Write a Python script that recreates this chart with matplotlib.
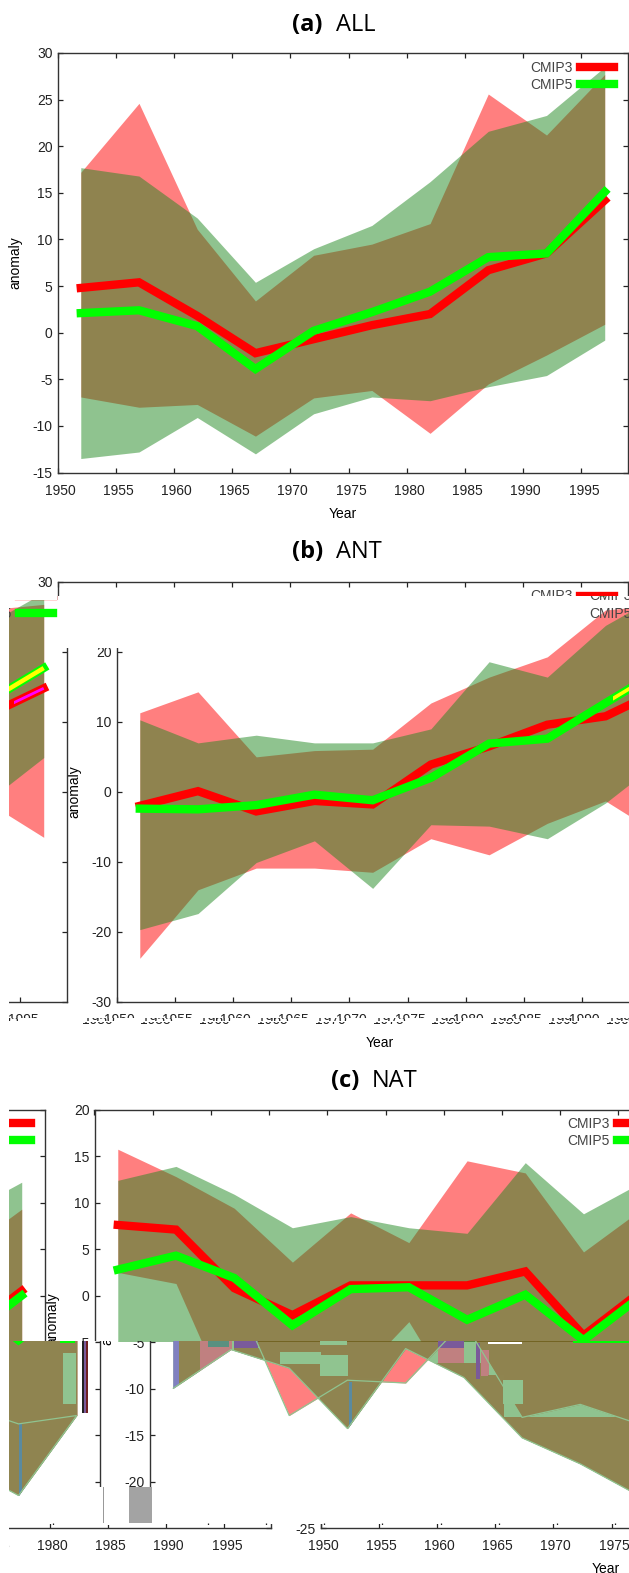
import matplotlib
matplotlib.use("Agg")
import matplotlib.pyplot as plt
from matplotlib.patches import Rectangle
from matplotlib.transforms import Bbox, IdentityTransform, ScaledTranslation

WIDTH = 629
HEIGHT = 1573
WRAP = 620

years = [1952, 1957, 1962, 1967, 1972, 1977, 1982, 1987, 1992, 1997]
xTicks = [1950, 1955, 1960, 1965, 1970, 1975, 1980, 1985, 1990, 1995]

# panel a
allCmip3Mean = [4.8, 5.4, 1.8, -2.2, -0.7, 0.8, 2.0, 6.7, 8.5, 14.2]
allCmip5Mean = [2.1, 2.4, 0.7, -3.9, 0.2, 2.2, 4.4, 8.1, 8.5, 15.1]
allCmip3Upper = [17.2, 24.6, 11.1, 3.4, 8.3, 9.5, 11.7, 25.6, 21.2, 27.7]
allCmip5Upper = [17.7, 16.8, 12.3, 5.4, 9.0, 11.5, 16.2, 21.6, 23.3, 28.5]
allCmip3Lower = [-6.9, -8.0, -7.7, -11.1, -7.0, -6.2, -10.8, -5.5, -2.4, 0.9]
allCmip5Lower = [-13.5, -12.8, -9.1, -13.0, -8.7, -6.9, -7.3, -5.8, -4.6, -0.8]

# panel b
antCmip3Mean = [-2.0, 0.1, -2.8, -1.3, -1.8, 3.9, 6.5, 9.6, 10.8, 14.8]
antCmip5Mean = [-2.4, -2.5, -1.9, -0.4, -1.2, 2.0, 6.9, 7.6, 12.7, 17.7]
antCmip3Upper = [11.3, 14.3, 5.0, 5.9, 6.1, 12.7, 16.4, 19.3, 26.0, 26.8]
antCmip5Upper = [10.3, 7.0, 8.1, 7.0, 7.0, 9.0, 18.6, 16.4, 23.8, 28.5]
antCmip3Lower = [-23.8, -14.0, -10.9, -10.9, -11.5, -6.7, -9.0, -4.5, -1.3, -6.5]
antCmip5Lower = [-19.7, -17.4, -10.1, -7.0, -13.8, -4.7, -4.9, -6.7, -1.6, 4.9]

# panel c
natCmip3Mean = [7.6, 7.1, 0.8, -2.1, 1.1, 1.1, 1.1, 2.6, -4.3, 0.5]
natCmip5Mean = [2.8, 4.3, 1.9, -3.2, 0.7, 0.9, -2.6, 0.1, -4.8, 0.0]
natCmip3Upper = [15.75, 12.8, 9.4, 3.6, 8.9, 5.7, 14.5, 13.2, 4.7, 9.3]
natCmip5Upper = [12.4, 13.9, 10.9, 7.3, 8.5, 7.3, 6.7, 14.3, 8.8, 12.2]
natCmip3Lower = [2.5, 1.3, -12.9, -9.1, -9.4, -2.8, -13.1, -11.7, -13.8, -12.9]
natCmip5Lower = [-10.0, -5.8, -7.8, -14.3, -5.7, -8.8, -15.3, -18.1, -21.5, -12.9]

OLIVE = "#8f8450"
LIGHT_GREEN = "#90c490"
PINK = "#c08080"
PURPLE = "#7a5a9a"
TEAL = "#5a9080"
FONT_SIZE = 10

plt.rcParams["font.family"] = ["Liberation Sans", "DejaVu Sans"]
plt.rcParams["font.size"] = FONT_SIZE
plt.rcParams["axes.unicode_minus"] = False
plt.rcParams["text.color"] = "#222222"
plt.rcParams["xtick.color"] = "#222222"
plt.rcParams["ytick.color"] = "#222222"

fig = plt.figure(figsize=(WIDTH / 100, HEIGHT / 100), dpi=100)


def pixelBox(x0, x1, y0, y1):
    return Bbox([[x0, HEIGHT - y1], [x1, HEIGHT - y0]])


def drawPanel(series, ylim, yStep, top, bottom, dx, clip):
    (c3Mean, c5Mean, c3Up, c5Up, c3Lo, c5Lo) = series
    left = 57.5 + dx
    ax = fig.add_axes([left / WIDTH, (HEIGHT - bottom) / HEIGHT, 570.5 / WIDTH, (bottom - top) / HEIGHT])
    ax.patch.set_visible(False)

    ax.fill_between(years, c3Lo, c3Up, color="#ff0000", alpha=0.5, lw=0)
    ax.fill_between(years, c5Lo, c5Up, color="#208820", alpha=0.5, lw=0)
    ax.plot(years, c3Mean, color="#ff0000", lw=6.0, solid_capstyle="projecting", solid_joinstyle="miter", label="CMIP3")
    ax.plot(years, c5Mean, color="#00ff00", lw=6.0, solid_capstyle="projecting", solid_joinstyle="miter", label="CMIP5")

    ax.set_xlim(1950, 1999)
    ax.set_ylim(*ylim)
    ax.set_xticks(xTicks)
    ax.set_yticks(range(ylim[0], ylim[1] + 1, yStep))
    ax.tick_params(direction="in", top=True, right=True, length=3.6, width=0.9, labelsize=FONT_SIZE)
    ax.tick_params(axis="x", pad=8)
    ax.tick_params(axis="y", pad=3.6)
    for spine in ax.spines.values():
        spine.set_linewidth(1.0)
        spine.set_color("#333333")

    ax.set_xlabel("Year", va="center")
    ax.set_ylabel("anomaly", va="center")
    ax.xaxis.set_label_coords(0.5, -41 / (bottom - top))
    ax.yaxis.set_label_coords(-42.5 / 570.5, 0.5)

    legend = ax.legend(loc="upper right", bbox_to_anchor=(0.976, 1 - 7.5 / (bottom - top)), frameon=False,
                       markerfirst=False, handlelength=2.45, handletextpad=0.55, borderpad=0,
                       borderaxespad=0, labelspacing=0.22, fontsize=FONT_SIZE)
    for text in legend.get_texts():
        text.set_color("#444444")

    shift = ScaledTranslation(2.5 / 100, 0, fig.dpi_scale_trans)
    fig.canvas.draw()
    for tick in ax.xaxis.get_major_ticks():
        tick.label1.set_transform(tick.label1.get_transform() + shift)

    box = pixelBox(*clip)
    for artist in ax.findobj():
        if artist is not ax:
            artist.set_clip_path(None)
            artist.set_clip_box(box)
            artist.set_clip_on(True)
    return ax


def clippedLine(ax, xs, ys, color, lw, clip):
    line, = ax.plot(xs, ys, color=color, lw=lw, solid_capstyle="butt")
    line.set_clip_box(pixelBox(*clip))


def recolour(ax, series, rects):
    # glitched blocks keep the outline of the CMIP5 band
    for (x0, x1, y0, y1, color) in rects:
        poly = ax.fill_between(years, series[5], series[3], color=color, lw=0)
        poly.set_clip_path(None)
        poly.set_clip_box(pixelBox(x0, x1, y0, y1))


def pixelRect(x0, x1, y0, y1, color):
    fig.add_artist(Rectangle((x0, HEIGHT - y1), x1 - x0, y1 - y0, facecolor=color, edgecolor="none",
                             transform=IdentityTransform(), zorder=10))


allSeries = (allCmip3Mean, allCmip5Mean, allCmip3Upper, allCmip5Upper, allCmip3Lower, allCmip5Lower)
antSeries = (antCmip3Mean, antCmip5Mean, antCmip3Upper, antCmip5Upper, antCmip3Lower, antCmip5Lower)
natSeries = (natCmip3Mean, natCmip5Mean, natCmip3Upper, natCmip5Upper, natCmip3Lower, natCmip5Lower)

# panel a is intact
drawPanel(allSeries, (-15, 30), 5, 53, 472.5, 0, (0, WIDTH, 0, 535))

# panel b: rows slide sideways and wrap round
T, B = 582, 1001.7
drawPanel(antSeries, (-30, 30), 10, T, B, 0, (9, WIDTH, 560, 596))
drawPanel(antSeries, (-30, 30), 10, T, B, 0, (50, 60, 596, 600))
antMain = drawPanel(antSeries, (-30, 30), 10, T, B, 59, (9, WIDTH, 596, 1018))
antWrap = drawPanel(antSeries, (-30, 30), 10, T, B, 59 - WRAP, (9, WIDTH, 596, 1018))
drawPanel(antSeries, (-30, 30), 10, T, B, 39, (9, WIDTH, 1018, 1020.5))
drawPanel(antSeries, (-30, 30), 10, T, B, 39 - WRAP, (9, WIDTH, 1018, 1020.5))
drawPanel(antSeries, (-30, 30), 10, T, B, 37.5, (9, WIDTH, 1022, 1060))
clippedLine(antMain, years[-2:], antCmip5Mean[-2:], "#ffff00", 2.6, (613, WIDTH, 596, 1018))
clippedLine(antWrap, years[-2:], antCmip5Mean[-2:], "#ffff00", 3.2, (9, 50, 596, 1018))
clippedLine(antWrap, years[-2:], antCmip3Mean[-2:], "#ff00ff", 2.0, (14, 45, 596, 1018))
pixelRect(9, 56.5, 596, 599.5, "white")
pixelRect(58, 125, 596, 648, "white")

# panel c: same fault, three offsets
T, B = 1109.7, 1528
drawPanel(natSeries, (-25, 20), 5, T, B, 37, (9, WIDTH, 1100, 1341))
drawPanel(natSeries, (-25, 20), 5, T, B, 37 - WRAP, (9, WIDTH, 1100, 1341))
natMain = drawPanel(natSeries, (-25, 20), 5, T, B, 92, (9, WIDTH, 1341, 1524))
natWrap = drawPanel(natSeries, (-25, 20), 5, T, B, 92 - WRAP, (9, 77, 1341, 1524))
natWrapAxis = drawPanel(natSeries, (-25, 20), 5, T, B, 92 - WRAP, (77, WIDTH, 1341, 1524))
drawPanel(natSeries, (-25, 20), 5, T, B, 263, (9, WIDTH, 1524, HEIGHT))
drawPanel(natSeries, (-25, 20), 5, T, B, 263 - WRAP, (9, WIDTH, 1524, HEIGHT))

mainBlocks = [
    (173, 179, 1341, 1400, "#8080c0"),
    (179, 200, 1341, 1400, OLIVE),
    (200, 232, 1341, 1380, PINK),
    (208, 228, 1341, 1346, TEAL),
    (232, 234, 1341, 1352, LIGHT_GREEN),
    (234, 257, 1341, 1348, PURPLE),
    (234, 262, 1348, 1400, OLIVE),
    (280, 320, 1352, 1363, LIGHT_GREEN),
    (320, 347, 1355, 1375, LIGHT_GREEN),
    (320, 395, 1378, 1440, OLIVE),
    (349, 351, 1382, 1428, "#5a8aa0"),
    (438, 463, 1347, 1363, PINK),
    (438, 463, 1341, 1347, PURPLE),
    (428, 487, 1363, 1420, OLIVE),
    (476, 479, 1343, 1378, PURPLE),
    (481, 488, 1350, 1375, PINK),
    (488, 503, 1375, 1425, OLIVE),
    (503, 522, 1380, 1403, LIGHT_GREEN),
    (500, 640, 1417, 1500, OLIVE),
]
wrapBlocks = [
    (9, 77, 1341, 1500, OLIVE),
    (63, 75, 1353, 1403, LIGHT_GREEN),
    (19, 21, 1423, 1495, "#5a8aa0"),
]
recolour(natMain, natSeries, mainBlocks)
recolour(natWrap, natSeries, wrapBlocks)
clippedLine(natMain, years, natCmip3Lower, LIGHT_GREEN, 0.9, (9, WIDTH, 1341, 1524))
clippedLine(natMain, years, natCmip5Lower, LIGHT_GREEN, 0.9, (9, WIDTH, 1341, 1524))
clippedLine(natWrap, years, natCmip3Lower, LIGHT_GREEN, 0.9, (9, 78, 1341, 1524))
clippedLine(natWrap, years, natCmip5Lower, LIGHT_GREEN, 0.9, (9, 78, 1341, 1524))

pixelRect(85, 160, 1487, 1525, "white")
pixelRect(129, 152, 1487, 1523, "#a3a3a3")
pixelRect(103, 103.7, 1487, 1523, "#999999")
pixelRect(82, 84, 1341, 1413, "#222222")
pixelRect(84, 86, 1341, 1413, PURPLE)
pixelRect(86, 88, 1341, 1413, "#702020")
pixelRect(488, 522, 1341.7, 1344, "white")
pixelRect(573, WIDTH, 1341, 1343, "#00ff00")
pixelRect(60, 75, 1341, 1343, "#00ff00")
pixelRect(320, 347, 1341, 1345, LIGHT_GREEN)

titleFont = ["Open Sans", "DejaVu Sans"]
for (x1, t1, x2, t2, y) in [(292, "(a)", 336, "ALL", 25), (292, "(b)", 336, "ANT", 552), (331, "(c)", 372, "NAT", 1081)]:
    fig.text(x1 / WIDTH, 1 - y / HEIGHT, t1, family=titleFont, fontsize=17, fontweight="bold", color="black", va="center")
    fig.text(x2 / WIDTH, 1 - y / HEIGHT, t2, family=titleFont, fontsize=17, color="black", va="center")

fig.savefig("out.png", dpi=100)
